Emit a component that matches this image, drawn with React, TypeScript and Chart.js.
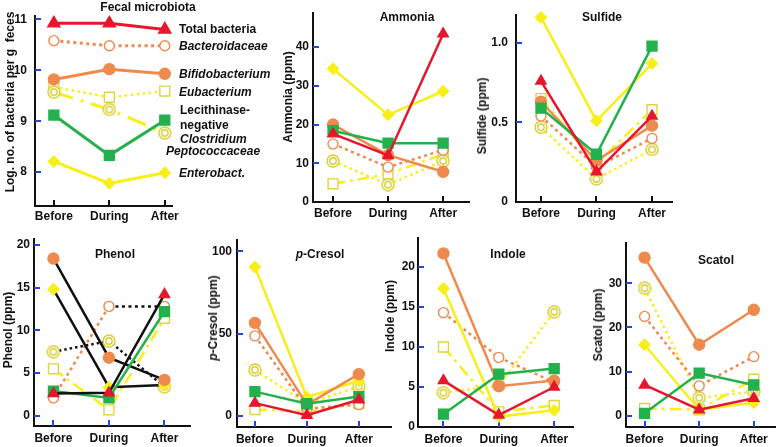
import React, { useEffect, useRef } from 'react';
import { Chart, registerables } from 'chart.js';

Chart.register(...registerables);

const FONT = '"Liberation Sans", Arial, Helvetica, sans-serif';
Chart.defaults.font.family = FONT;
Chart.defaults.font.size = 12;
Chart.defaults.font.weight = 'bold';
Chart.defaults.color = '#111';

// ---------- categories / labels ----------
const categories = ['Before', 'During', 'After'];

// ---------- Fecal microbiota (log no. of bacteria per g feces) ----------
const fecalTotal = [10.92, 10.92, 10.8];
const fecalBacteroidaceae = [10.58, 10.48, 10.48];
const fecalBifidobacterium = [9.82, 10.02, 9.93];
const fecalEubacterium = [9.67, 9.47, 9.59];
const fecalClostridium = [9.57, 9.23, 8.77];
const fecalPeptococcaceae = [9.12, 8.33, 9.02];
const fecalEnterobact = [8.21, 7.78, 7.99];

// ---------- Ammonia (ppm) ----------
const ammoniaTotal = [17.6, 12.0, 43.4];
const ammoniaBacteroidaceae = [15.0, 9.0, 13.4];
const ammoniaBifidobacterium = [20.0, 12.1, 7.8];
const ammoniaEubacterium = [4.7, 7.2, 12.3];
const ammoniaClostridium = [10.6, 4.5, 10.6];
const ammoniaPeptococcaceae = [18.4, 15.2, 15.2];
const ammoniaEnterobact = [34.4, 22.5, 28.6];

// ---------- Sulfide (ppm) ----------
const sulfideTotal = [0.76, 0.19, 0.54];
const sulfideBacteroidaceae = [0.54, 0.22, 0.4];
const sulfideBifidobacterium = [0.63, 0.26, 0.48];
const sulfideEubacterium = [0.65, 0.24, 0.58];
const sulfideClostridium = [0.47, 0.145, 0.33];
const sulfidePeptococcaceae = [0.59, 0.3, 0.98];
const sulfideEnterobact = [1.16, 0.51, 0.87];

// ---------- Phenol (ppm) ----------
const phenolTotal = [2.6, 2.7, 14.2];
const phenolBacteroidaceae = [2.1, 12.8, 12.8];
const phenolBifidobacterium = [18.4, 6.8, 4.2];
const phenolEubacterium = [5.5, 0.7, 11.4];
const phenolClostridium = [7.5, 8.75, 3.4];
const phenolPeptococcaceae = [2.9, 2.1, 12.2];
const phenolEnterobact = [14.8, 3.35, 3.6];

// ---------- p-Cresol (ppm) ----------
const cresolTotal = [7.9, 0.6, 10.0];
const cresolBacteroidaceae = [48.7, 4.6, 7.0];
const cresolBifidobacterium = [56.6, 7.0, 25.5];
const cresolEubacterium = [4.0, 3.0, 7.6];
const cresolClostridium = [28.0, 7.6, 18.0];
const cresolPeptococcaceae = [14.9, 7.6, 11.9];
const cresolEnterobact = [90.5, 11.5, 21.5];

// ---------- Indole (ppm) ----------
const indoleTotal = [5.8, 1.5, 5.0];
const indoleBacteroidaceae = [14.3, 8.7, 5.6];
const indoleBifidobacterium = [21.7, 5.1, 5.8];
const indoleEubacterium = [10.0, 1.9, 2.7];
const indoleClostridium = [4.3, 5.2, 14.4];
const indolePeptococcaceae = [1.6, 6.6, 7.3];
const indoleEnterobact = [17.3, 1.3, 2.1];

// ---------- Scatol (ppm) ----------
const scatolTotal = [7.0, 1.4, 4.0];
const scatolBacteroidaceae = [22.5, 6.8, 13.4];
const scatolBifidobacterium = [35.8, 16.1, 24.0];
const scatolEubacterium = [1.7, 1.4, 8.3];
const scatolClostridium = [28.9, 4.1, 5.5];
const scatolPeptococcaceae = [0.6, 9.7, 7.0];
const scatolEnterobact = [16.1, 1.4, 3.0];

// ---------- y tick values ----------
const fecalTicks = [8, 9, 10, 11];
const ammoniaTicks = [0, 10, 20, 30, 40];
const sulfideTicks = [0, 0.5, 1.0];
const phenolTicks = [0, 5, 10, 15, 20];
const cresolTicks = [0, 50, 100];
const indoleTicks = [0, 5, 10, 15, 20];
const scatolTicks = [0, 10, 20, 30];

// ---------- styles ----------
const RED = '#e6162c';
const ORANGE = '#ef8a4f';
const YELLOW = '#f8ef1a';
const YELLOW_OPEN = '#e0d53e';
const GREEN = '#22b14c';
const BLUE = '#2646d8';
const INK = '#111111';

const DOTTED = [3, 3.5];
const DOTTED_Y = [2.5, 3.5];
const DASH_DOT = [12, 5, 3, 5];
const LONG_DASH_DOT = [20, 8, 3, 8];

type Key = 'total' | 'bacteroid' | 'bifido' | 'eubac' | 'clostr' | 'pepto' | 'entero';
const ORDER: Key[] = ['total', 'pepto', 'bifido', 'entero', 'bacteroid', 'clostr', 'eubac'];
const LABELS: Record<Key, string> = {
  total: 'Total bacteria',
  bacteroid: 'Bacteroidaceae',
  bifido: 'Bifidobacterium',
  eubac: 'Eubacterium',
  clostr: 'Lecithinase-negative Clostridium',
  pepto: 'Peptococcaceae',
  entero: 'Enterobact.',
};

let dbl: HTMLCanvasElement | null = null;
function doubleCircle(): HTMLCanvasElement {
  if (dbl) return dbl;
  const c = document.createElement('canvas');
  c.width = 14;
  c.height = 14;
  const g = c.getContext('2d')!;
  g.fillStyle = '#ffffff';
  g.beginPath();
  g.arc(7, 7, 6, 0, Math.PI * 2);
  g.fill();
  g.strokeStyle = '#d8cd2c';
  g.lineWidth = 1.4;
  g.beginPath();
  g.arc(7, 7, 6, 0, Math.PI * 2);
  g.stroke();
  g.beginPath();
  g.arc(7, 7, 3.2, 0, Math.PI * 2);
  g.stroke();
  dbl = c;
  return c;
}

interface Style {
  line: string;
  dash: number[];
  width: number;
  point: any;
  r: number;
  bg: string;
  bd: string;
  seg?: (i: number) => string;
}

function baseStyle(k: Key): Style {
  switch (k) {
    case 'total':
      return { line: RED, dash: [], width: 2.5, point: 'triangle', r: 6, bg: RED, bd: RED };
    case 'bacteroid':
      return { line: ORANGE, dash: DOTTED, width: 2.5, point: 'circle', r: 5, bg: '#ffffff', bd: ORANGE };
    case 'bifido':
      return { line: ORANGE, dash: [], width: 2.5, point: 'circle', r: 5.5, bg: ORANGE, bd: ORANGE };
    case 'eubac':
      return { line: YELLOW, dash: DASH_DOT, width: 2.5, point: 'rect', r: 7, bg: '#ffffff', bd: YELLOW_OPEN };
    case 'clostr':
      return { line: YELLOW, dash: DOTTED_Y, width: 2.5, point: doubleCircle(), r: 6, bg: '#ffffff', bd: YELLOW_OPEN };
    case 'pepto':
      return { line: GREEN, dash: [], width: 2.5, point: 'rect', r: 7, bg: GREEN, bd: GREEN };
    case 'entero':
    default:
      return { line: YELLOW, dash: [], width: 2.5, point: 'rectRot', r: 5.5, bg: YELLOW, bd: YELLOW };
  }
}

interface PanelDef {
  cx: number; cy: number; cw: number; ch: number;
  left: number; top: number; right: number; bottom: number;
  xMin: number; xMax: number;
  yMin: number; yMax: number;
  yTicks: number[];
  yFmt?: (v: number) => string;
  yPad: number;
  xPad: number;
  xTickColor: string;
  skipZero: boolean;
  data: Record<Key, number[]>;
  overrides?: Partial<Record<Key, Partial<Style>>>;
}

const PANELS: PanelDef[] = [
  {
    cx: 0, cy: 0, cw: 200, ch: 226, left: 35, top: 16, right: 172, bottom: 206,
    xMin: -0.34, xMax: 2.13, yMin: 7.336, yMax: 11.064, yTicks: fecalTicks, yPad: 8, xPad: 3,
    xTickColor: INK, skipZero: false,
    data: { total: fecalTotal, bacteroid: fecalBacteroidaceae, bifido: fecalBifidobacterium, eubac: fecalEubacterium, clostr: fecalClostridium, pepto: fecalPeptococcaceae, entero: fecalEnterobact },
    overrides: { eubac: { dash: DOTTED_Y }, clostr: { dash: LONG_DASH_DOT, width: 3 }, bacteroid: { width: 3 }, total: { width: 3, r: 7 }, bifido: { width: 3 }, pepto: { width: 3 }, entero: { width: 3 } },
  },
  {
    cx: 265, cy: 0, cw: 225, ch: 226, left: 313, top: 13, right: 469, bottom: 202,
    xMin: -0.364, xMax: 2.47, yMin: 0, yMax: 48.8, yTicks: ammoniaTicks, yPad: 4, xPad: 4,
    xTickColor: INK, skipZero: true,
    data: { total: ammoniaTotal, bacteroid: ammoniaBacteroidaceae, bifido: ammoniaBifidobacterium, eubac: ammoniaEubacterium, clostr: ammoniaClostridium, pepto: ammoniaPeptococcaceae, entero: ammoniaEnterobact },
  },
  {
    cx: 490, cy: 0, cw: 210, ch: 226, left: 516, top: 13, right: 672, bottom: 202,
    xMin: -0.45, xMax: 2.36, yMin: 0, yMax: 1.174, yTicks: sulfideTicks, yPad: 8, xPad: 4,
    yFmt: (v: number) => (v === 0 ? '0' : v.toFixed(1)),
    xTickColor: INK, skipZero: true,
    data: { total: sulfideTotal, bacteroid: sulfideBacteroidaceae, bifido: sulfideBifidobacterium, eubac: sulfideEubacterium, clostr: sulfideClostridium, pepto: sulfidePeptococcaceae, entero: sulfideEnterobact },
  },
  {
    cx: 0, cy: 228, cw: 200, ch: 219, left: 34, top: 237, right: 190, bottom: 426,
    xMin: -0.35, xMax: 2.46, yMin: -1.19, yMax: 20.66, yTicks: phenolTicks, yPad: 4, xPad: 5,
    xTickColor: BLUE, skipZero: false,
    data: { total: phenolTotal, bacteroid: phenolBacteroidaceae, bifido: phenolBifidobacterium, eubac: phenolEubacterium, clostr: phenolClostridium, pepto: phenolPeptococcaceae, entero: phenolEnterobact },
    overrides: {
      total: { line: INK },
      bifido: { line: INK },
      entero: { line: INK },
      clostr: { line: INK, dash: [2.5, 3] },
      bacteroid: { seg: (i: number) => (i === 0 ? ORANGE : INK) },
    },
  },
  {
    cx: 200, cy: 228, cw: 200, ch: 219, left: 237, top: 237, right: 392, bottom: 427,
    xMin: -0.345, xMax: 2.63, yMin: -6.56, yMax: 106.7, yTicks: cresolTicks, yPad: 5, xPad: 5,
    xTickColor: BLUE, skipZero: false,
    data: { total: cresolTotal, bacteroid: cresolBacteroidaceae, bifido: cresolBifidobacterium, eubac: cresolEubacterium, clostr: cresolClostridium, pepto: cresolPeptococcaceae, entero: cresolEnterobact },
  },
  {
    cx: 395, cy: 228, cw: 195, ch: 219, left: 418, top: 237, right: 573, bottom: 427,
    xMin: -0.46, xMax: 2.34, yMin: 0, yMax: 23.6, yTicks: indoleTicks, yPad: 3, xPad: 5,
    xTickColor: BLUE, skipZero: true,
    data: { total: indoleTotal, bacteroid: indoleBacteroidaceae, bifido: indoleBifidobacterium, eubac: indoleEubacterium, clostr: indoleClostridium, pepto: indolePeptococcaceae, entero: indoleEnterobact },
  },
  {
    cx: 595, cy: 228, cw: 189, ch: 219, left: 626, top: 243, right: 778, bottom: 427,
    xMin: -0.34, xMax: 2.4, yMin: -2.5, yMax: 39.1, yTicks: scatolTicks, yPad: 4, xPad: 5,
    xTickColor: BLUE, skipZero: false,
    data: { total: scatolTotal, bacteroid: scatolBacteroidaceae, bifido: scatolBifidobacterium, eubac: scatolEubacterium, clostr: scatolClostridium, pepto: scatolPeptococcaceae, entero: scatolEnterobact },
  },
];

function buildDatasets(def: PanelDef) {
  return ORDER.map((k) => {
    const st: Style = { ...baseStyle(k), ...(def.overrides?.[k] || {}) } as Style;
    const ds: any = {
      label: LABELS[k],
      data: def.data[k].map((v, i) => ({ x: i, y: v })),
      borderColor: st.line,
      borderWidth: st.width,
      borderDash: st.dash,
      borderCapStyle: 'butt',
      tension: 0,
      fill: false,
      pointStyle: st.point,
      pointRadius: st.r,
      pointBackgroundColor: st.bg,
      pointBorderColor: st.bd,
      pointBorderWidth: 1.4,
      clip: false,
    };
    if (st.seg) {
      const f = st.seg;
      ds.segment = { borderColor: (ctx: any) => f(ctx.p0DataIndex) };
    }
    return ds;
  });
}

const inTicks = {
  id: 'inTicks',
  beforeDatasetsDraw(chart: any, _args: any, opts: any) {
    const { ctx, chartArea, scales } = chart;
    ctx.save();
    ctx.lineWidth = 2;
    ctx.strokeStyle = BLUE;
    for (const t of scales.y.ticks) {
      if (opts.skipZero && t.value === 0) continue;
      const py = Math.round(scales.y.getPixelForValue(t.value));
      ctx.beginPath();
      ctx.moveTo(chartArea.left, py);
      ctx.lineTo(chartArea.left + 6, py);
      ctx.stroke();
    }
    ctx.strokeStyle = opts.xColor;
    for (const t of scales.x.ticks) {
      const px = Math.round(scales.x.getPixelForValue(t.value));
      ctx.beginPath();
      ctx.moveTo(px, chartArea.bottom);
      ctx.lineTo(px, chartArea.bottom - 6);
      ctx.stroke();
    }
    ctx.restore();
  },
};

function PanelChart({ def }: { def: PanelDef }) {
  const ref = useRef<HTMLCanvasElement>(null);
  useEffect(() => {
    const canvas = ref.current;
    if (!canvas) return;
    const chart = new Chart(canvas, {
      type: 'line',
      data: { datasets: buildDatasets(def) },
      options: {
        animation: false,
        responsive: false,
        devicePixelRatio: 1,
        layout: {
          padding: { left: 0, bottom: 0, top: def.top - def.cy, right: def.cx + def.cw - def.right },
        },
        plugins: {
          legend: { display: false },
          tooltip: { enabled: false },
          title: { display: false },
          inTicks: { skipZero: def.skipZero, xColor: def.xTickColor },
        } as any,
        scales: {
          x: {
            type: 'linear',
            min: def.xMin,
            max: def.xMax,
            afterBuildTicks: (s: any) => {
              s.ticks = [0, 1, 2].map((v) => ({ value: v }));
            },
            afterFit: (s: any) => {
              s.height = def.cy + def.ch - def.bottom;
            },
            ticks: {
              callback: (v: any) => categories[Math.round(Number(v))] ?? '',
              padding: def.xPad,
              maxRotation: 0,
              autoSkip: false,
              color: INK,
              font: { family: FONT, size: 12, weight: 'bold' },
            },
            grid: { display: false, drawTicks: false },
            border: { display: true, color: INK, width: 2 },
          },
          y: {
            type: 'linear',
            min: def.yMin,
            max: def.yMax,
            afterBuildTicks: (s: any) => {
              s.ticks = def.yTicks.map((v) => ({ value: v }));
            },
            afterFit: (s: any) => {
              s.width = def.left - def.cx;
            },
            ticks: {
              callback: (v: any) => (def.yFmt ? def.yFmt(Number(v)) : String(v)),
              padding: def.yPad,
              autoSkip: false,
              color: INK,
              font: { family: FONT, size: 12, weight: 'bold' },
            },
            grid: { display: false, drawTicks: false },
            border: { display: true, color: INK, width: 2 },
          },
        },
      } as any,
      plugins: [inTicks as any],
    });
    return () => chart.destroy();
  }, [def]);
  return (
    <canvas
      ref={ref}
      width={def.cw}
      height={def.ch}
      style={{ position: 'absolute', left: def.cx, top: def.cy, width: def.cw, height: def.ch }}
    />
  );
}

const textBase: React.CSSProperties = {
  position: 'absolute',
  font: `bold 12px ${FONT}`,
  color: '#111',
  whiteSpace: 'nowrap',
  lineHeight: '14px',
};

function Center({ x, y, children }: { x: number; y: number; children: React.ReactNode }) {
  return <div style={{ ...textBase, left: x, top: y, transform: 'translate(-50%, -50%)' }}>{children}</div>;
}
function VTitle({ x, y, children }: { x: number; y: number; children: React.ReactNode }) {
  return (
    <div style={{ ...textBase, left: x, top: y, transform: 'translate(-50%, -50%) rotate(-90deg)' }}>{children}</div>
  );
}
function LeftText({ x, y, italic, children }: { x: number; y: number; italic?: boolean; children: React.ReactNode }) {
  return (
    <div style={{ ...textBase, left: x, top: y, transform: 'translateY(-50%)', fontStyle: italic ? 'italic' : 'normal' }}>
      {children}
    </div>
  );
}

export default function App() {
  return (
    <div style={{ position: 'absolute', left: 0, top: 0, width: 784, height: 447, background: '#fff', overflow: 'hidden' }}>
      {PANELS.map((p, i) => (
        <PanelChart key={i} def={p} />
      ))}
      {/* panel titles */}
      <Center x={148} y={7}>Fecal microbiota</Center>
      <Center x={407} y={17}>Ammonia</Center>
      <Center x={602} y={17}>Sulfide</Center>
      <Center x={115} y={254}>Phenol</Center>
      <Center x={320} y={254}>
        <i>p</i>-Cresol
      </Center>
      <Center x={508} y={254}>Indole</Center>
      <Center x={716} y={260}>Scatol</Center>
      {/* y-axis titles */}
      <VTitle x={10} y={102}>Log. no. of bacteria per g&nbsp;&nbsp;feces</VTitle>
      <VTitle x={288} y={97}>Ammonia (ppm)</VTitle>
      <VTitle x={482} y={116}>Sulfide (ppm)</VTitle>
      <VTitle x={8} y={330}>Phenol (ppm)</VTitle>
      <VTitle x={213} y={318}>
        <i>p</i>-Cresol (ppm)
      </VTitle>
      <VTitle x={390} y={316}>Indole (ppm)</VTitle>
      <VTitle x={598} y={325}>Scatol (ppm)</VTitle>
      {/* series labels of the fecal microbiota panel */}
      <LeftText x={179} y={29}>Total bacteria</LeftText>
      <LeftText x={179} y={46} italic>Bacteroidaceae</LeftText>
      <LeftText x={179} y={74} italic>Bifidobacterium</LeftText>
      <LeftText x={179} y={92} italic>Eubacterium</LeftText>
      <LeftText x={180} y={110}>Lecithinase-</LeftText>
      <LeftText x={180} y={125}>negative</LeftText>
      <LeftText x={180} y={139} italic>Clostridium</LeftText>
      <LeftText x={166} y={151} italic>Peptococcaceae</LeftText>
      <LeftText x={179} y={173} italic>Enterobact.</LeftText>
    </div>
  );
}
